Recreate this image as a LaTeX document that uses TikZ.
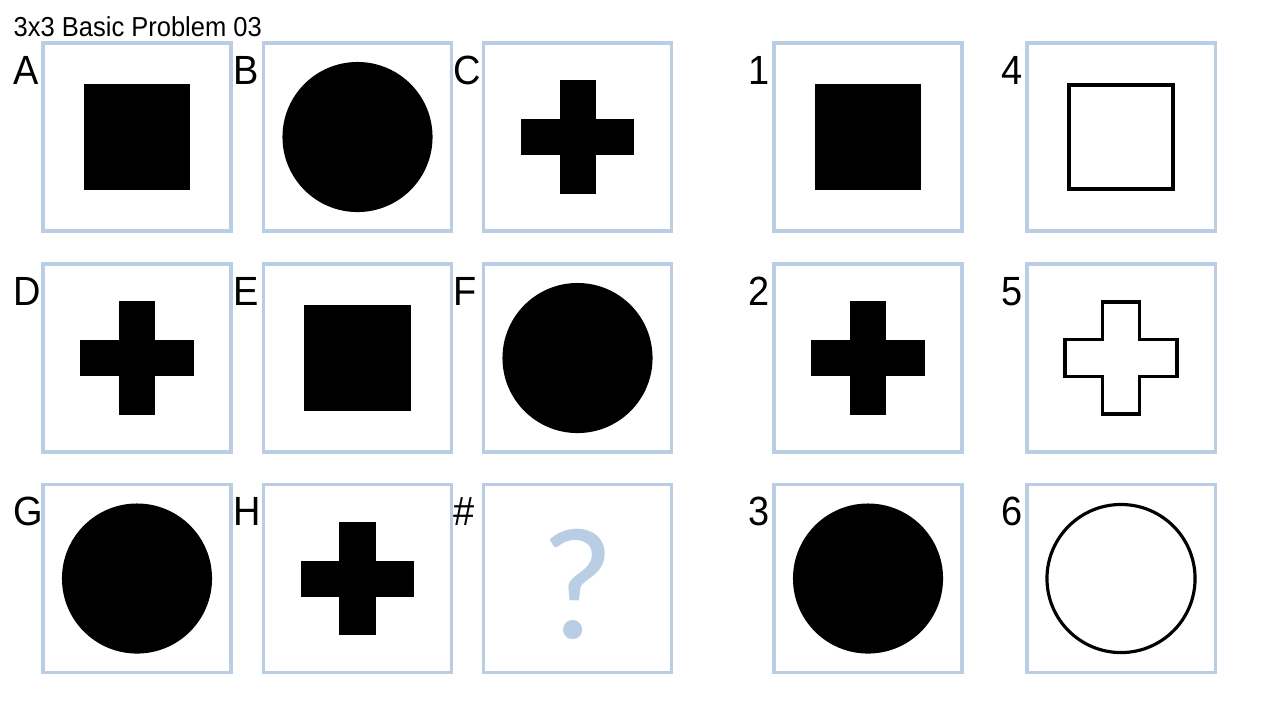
\documentclass[tikz,border=0pt]{standalone}
\usepackage{fontspec}
\setmainfont{Liberation Sans}[FakeStretch=0.93]
\newfontfamily\qfont{Carlito}
\usetikzlibrary{positioning}
\definecolor{cellblue}{RGB}{185,205,228}

\begin{document}
\begin{tikzpicture}[x=0.01cm, y=-0.01cm]

        \useasboundingbox[fill=white] (0,0) rectangle (1280,720);
        \tikzset{
            cell/.style={draw=cellblue, line width=0.9pt, minimum size=1.88cm, inner sep=0pt},
            tag/.style={anchor=base west, inner sep=0pt, yshift=-0.43cm, font=\fontsize{11.6pt}{13pt}\selectfont},
            lettertag/.style={tag, xshift=-0.29cm},
            digittag/.style={tag, xshift=-0.25cm},
            solidsq/.style={fill=black, minimum size=1.06cm, inner sep=0pt},
            solidcirc/.style={circle, fill=black, minimum size=1.5cm, inner sep=0pt},
            opensq/.style={draw=black, line width=0.9pt, minimum size=1.04cm, inner sep=0pt},
            opencirc/.style={circle, draw=black, line width=0.9pt, minimum size=1.48cm, inner sep=0pt},
            bar/.style={fill=black, minimum width=0.36cm, minimum height=1.13cm, inner sep=0pt},
            outline/.style={draw=black, line width=0.9pt}
        }

        % title
        \node[anchor=base west, inner sep=0pt, font=\fontsize{7.8pt}{9pt}\selectfont] (title) at (13,36) {3x3 Basic Problem 03};

        % problem matrix
        \node[cell] (cellA) at (137,137) {};
        \node[cell] (cellB) at (357.5,137) {};
        \node[cell] (cellC) at (577.5,137) {};
        \node[cell] (cellD) at (137,358) {};
        \node[cell] (cellE) at (357.5,358) {};
        \node[cell] (cellF) at (577.5,358) {};
        \node[cell] (cellG) at (137,578.5) {};
        \node[cell] (cellH) at (357.5,578.5) {};
        \node[cell] (cellQ) at (577.5,578.5) {};

        % answer choices
        \node[cell] (cell1) at (868,137) {};
        \node[cell] (cell4) at (1121,137) {};
        \node[cell] (cell2) at (868,358) {};
        \node[cell] (cell5) at (1121,358) {};
        \node[cell] (cell3) at (868,578.5) {};
        \node[cell] (cell6) at (1121,578.5) {};

        % labels
        \node[lettertag] (tagA) at (cellA.north west) {A};
        \node[lettertag] (tagB) at (cellB.north west) {B};
        \node[lettertag] (tagC) at (cellC.north west) {C};
        \node[lettertag] (tagD) at (cellD.north west) {D};
        \node[lettertag] (tagE) at (cellE.north west) {E};
        \node[lettertag] (tagF) at (cellF.north west) {F};
        \node[lettertag] (tagG) at (cellG.north west) {G};
        \node[lettertag] (tagH) at (cellH.north west) {H};
        \node[lettertag] (tagQ) at (cellQ.north west) {\#};
        \node[digittag] (tag1) at (cell1.north west) {1};
        \node[digittag] (tag2) at (cell2.north west) {2};
        \node[digittag] (tag3) at (cell3.north west) {3};
        \node[digittag] (tag4) at (cell4.north west) {4};
        \node[digittag] (tag5) at (cell5.north west) {5};
        \node[digittag] (tag6) at (cell6.north west) {6};

        % shapes in the matrix
        \node[solidsq] (figA) at (cellA) {};
        \node[solidcirc] (figB) at (cellB) {};
        \node[bar] (figC) at (cellC) {};
        \node[bar, rotate=90] (figCh) at (cellC) {};
        \node[bar] (figD) at (cellD) {};
        \node[bar, rotate=90] (figDh) at (cellD) {};
        \node[solidsq] (figE) at (cellE) {};
        \node[solidcirc] (figF) at (cellF) {};
        \node[solidcirc] (figG) at (cellG) {};
        \node[bar] (figH) at (cellH) {};
        \node[bar, rotate=90] (figHh) at (cellH) {};
        \node[text=cellblue, inner sep=0pt, yshift=-0.06cm, font=\qfont\fontsize{45.5pt}{50pt}\selectfont] (figQ) at (cellQ) {?};

        % shapes in the choices
        \node[solidsq] (fig1) at (cell1) {};
        \node[bar] (fig2) at (cell2) {};
        \node[bar, rotate=90] (fig2h) at (cell2) {};
        \node[solidcirc] (fig3) at (cell3) {};
        \node[opensq] (fig4) at (cell4) {};
        \draw[outline] (cell5.center) ++(-18.5,-56) -- ++(37,0) -- ++(0,37.5) -- ++(37.5,0) -- ++(0,37) -- ++(-37.5,0)
            -- ++(0,37.5) -- ++(-37,0) -- ++(0,-37.5) -- ++(-37.5,0) -- ++(0,-37) -- ++(37.5,0) -- cycle;
        \node[opencirc] (fig6) at (cell6) {};

\end{tikzpicture}
\end{document}
